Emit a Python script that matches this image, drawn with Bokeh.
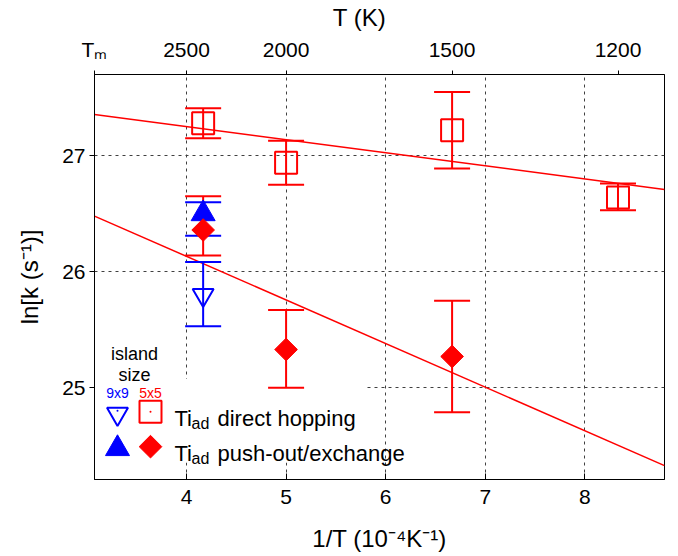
from bokeh.plotting import figure
from bokeh.models import Range1d, LinearAxis, FixedTicker
from bokeh.core.properties import value
from bokeh.embed import file_html
from bokeh.resources import INLINE
import math

# ---------------- data ----------------
# 5x5 island, Ti_ad direct hopping (open red squares)
hop5_invT = [4.167, 5.0, 6.667, 8.333]
hop5_lnk = [27.28, 26.94, 27.22, 26.64]
hop5_upper = [27.41, 27.13, 27.55, 26.76]
hop5_lower = [27.15, 26.75, 26.89, 26.53]

# 5x5 island, Ti_ad push-out/exchange (filled red diamonds)
push5_invT = [4.167, 5.0, 6.667]
push5_lnk = [26.36, 25.33, 25.27]
push5_upper = [26.65, 25.67, 25.75]
push5_lower = [26.14, 25.00, 24.79]

# 9x9 island, direct hopping (open blue down-triangle)
hop9_invT = [4.167]
hop9_lnk = [25.80]
hop9_upper = [26.085]
hop9_lower = [25.53]

# 9x9 island, push-out/exchange (filled blue up-triangle)
push9_invT = [4.167]
push9_lnk = [26.50]
push9_upper = [26.60]
push9_lower = [26.31]

# Arrhenius fit lines (end points)
hop_fit_x = [3.076, 8.80]
hop_fit_y = [27.356, 26.71]
push_fit_x = [3.076, 8.80]
push_fit_y = [26.48, 24.33]

bottom_ticks = [4, 5, 6, 7, 8]
left_ticks = [25, 26, 27]
top_T_values = [2500, 2000, 1500, 1200]
top_T_labels = ["2500", "2000", "1500", "1200"]
Tm_invT = 3.076
Tm_label = "T\u2098"

X0, X1 = 3.076, 8.80
Y0, Y1 = 24.21, 27.70

RED = "#ff0000"
BLUE = "#0000ff"
GRID = "#404040"
FONT = "Liberation Sans"

# page-pixel -> data helpers for the hand-made legend (layout only)
FX0, FX1, FY0, FY1 = 94.0, 664.0, 72.0, 479.0
def px2x(px):
    return X0 + (px - FX0) * (X1 - X0) / (FX1 - FX0)
def py2y(py):
    return Y1 - (py - FY0) * (Y1 - Y0) / (FY1 - FY0)

p = figure(width=670, height=556, x_range=Range1d(X0, X1), y_range=Range1d(Y0, Y1),
           output_backend="svg", toolbar_location=None,
           min_border_left=94, min_border_right=6, min_border_top=72, min_border_bottom=77,
           x_axis_label="1/T (10\u207b\u2074K\u207b\u00b9)", y_axis_label="ln[k (s\u207b\u00b9)]")
p.outline_line_color = "black"
p.outline_line_width = 1
p.background_fill_color = "white"
p.border_fill_color = "white"

# axes
xa = p.xaxis[0]
xa.ticker = FixedTicker(ticks=bottom_ticks)
xa.major_tick_in = 6
xa.major_tick_out = 0
xa.minor_tick_in = 0
xa.minor_tick_out = 0
xa.major_label_standoff = 10
xa.axis_label_standoff = 18
ya = p.yaxis[0]
ya.ticker = FixedTicker(ticks=left_ticks)
ya.major_tick_in = 0
ya.major_tick_out = 5
ya.minor_tick_in = 0
ya.minor_tick_out = 0
ya.major_label_standoff = 4
ya.axis_label_standoff = 16

top_ticks = [Tm_invT] + [1e4 / T for T in top_T_values]
overrides = {Tm_invT: Tm_label}
for t, lab in zip(top_ticks[1:], top_T_labels):
    overrides[t] = lab
ta = LinearAxis(ticker=FixedTicker(ticks=top_ticks),
                axis_label="T (K)" + "\u00a0" * 6,
                major_label_overrides=overrides)
ta.major_tick_in = 0
ta.major_tick_out = 4
ta.minor_tick_in = 0
ta.minor_tick_out = 0
ta.major_label_standoff = 10
ta.axis_label_standoff = 4
p.add_layout(ta, "above")

for ax in [xa, ya, ta]:
    ax.axis_line_color = "black"
    ax.major_tick_line_color = "black"
    ax.major_label_text_font = FONT
    ax.major_label_text_font_size = "21px"
    ax.major_label_text_color = "black"
    ax.axis_label_text_font = FONT
    ax.axis_label_text_font_size = "24px"
    ax.axis_label_text_font_style = "normal"
    ax.axis_label_text_color = "black"

# grid
p.xgrid.ticker = FixedTicker(ticks=bottom_ticks)
p.ygrid.ticker = FixedTicker(ticks=left_ticks)
for g in [p.xgrid, p.ygrid]:
    g.grid_line_color = GRID
    g.grid_line_dash = "3 4"
    g.grid_line_width = 1

# white legend box covering the grid in the lower-left corner
p.quad(left=[px2x(94)], right=[px2x(365)], bottom=[py2y(462)], top=[py2y(378)],
       fill_color="white", line_color=None)

# fit lines
p.line(hop_fit_x, hop_fit_y, line_color=RED, line_width=1.5)
p.line(push_fit_x, push_fit_y, line_color=RED, line_width=1.5)

def errbars(xs, lo, hi, color):
    p.segment(x0=xs, y0=lo, x1=xs, y1=hi, line_color=color, line_width=2)
    p.scatter(xs, lo, marker="dash", size=36, line_color=color, line_width=2)
    p.scatter(xs, hi, marker="dash", size=36, line_color=color, line_width=2)

# direct hopping 5x5
errbars(hop5_invT, hop5_lower, hop5_upper, RED)
p.scatter(hop5_invT, hop5_lnk, marker="square", size=22, fill_color=None,
          line_color=RED, line_width=2)
# direct hopping 9x9
errbars(hop9_invT, hop9_lower, hop9_upper, BLUE)
p.scatter(hop9_invT, hop9_lnk, marker="inverted_triangle", size=21, fill_color=None,
          line_color=BLUE, line_width=2)
# push-out 5x5 error bars, then 9x9, then diamonds
errbars(push5_invT, push5_lower, push5_upper, RED)
errbars(push9_invT, push9_lower, push9_upper, BLUE)
p.scatter(push9_invT, push9_lnk, marker="triangle", size=24, fill_color=BLUE,
          line_color=BLUE, line_width=1)
p.scatter(push5_invT, push5_lnk, marker="square", size=16, angle=math.pi / 4,
          fill_color=RED, line_color=RED, line_width=1)

# ---------------- hand-made legend ----------------
def txt(px, py, s, size, color="black", align="left", baseline="middle"):
    p.text(x=[px2x(px)], y=[py2y(py)], text=[s], text_font=value(FONT),
           text_font_size=size, text_color=color, text_align=align,
           text_baseline=baseline)

txt(134, 353, "island", "18px", align="center")
txt(134, 374, "size", "18px", align="center")
txt(117, 392, "9x9", "14px", color=BLUE, align="center")
txt(150, 392, "5x5", "14px", color=RED, align="center")

p.scatter([px2x(117)], [py2y(413)], marker="inverted_triangle", size=21, fill_color=None,
          line_color=BLUE, line_width=2)
p.scatter([px2x(117)], [py2y(410)], marker="circle", size=2, fill_color=BLUE, line_color=None)
p.scatter([px2x(150)], [py2y(411)], marker="square", size=22, fill_color=None,
          line_color=RED, line_width=2)
p.scatter([px2x(150)], [py2y(411)], marker="circle", size=2, fill_color=RED, line_color=None)
p.scatter([px2x(117)], [py2y(448)], marker="triangle", size=24, fill_color=BLUE,
          line_color=BLUE, line_width=1)
p.scatter([px2x(150)], [py2y(446)], marker="square", size=16, angle=math.pi / 4,
          fill_color=RED, line_color=RED, line_width=1)

for row_y, label in [(411, "direct hopping"), (446, "push-out/exchange")]:
    txt(174, row_y + 7, "Ti", "22px", baseline="alphabetic")
    txt(191, row_y + 12, "ad", "16px", baseline="alphabetic")
    txt(217, row_y + 7, label, "22px", baseline="alphabetic")

open("out.html", "w").write(file_html(p, INLINE))
